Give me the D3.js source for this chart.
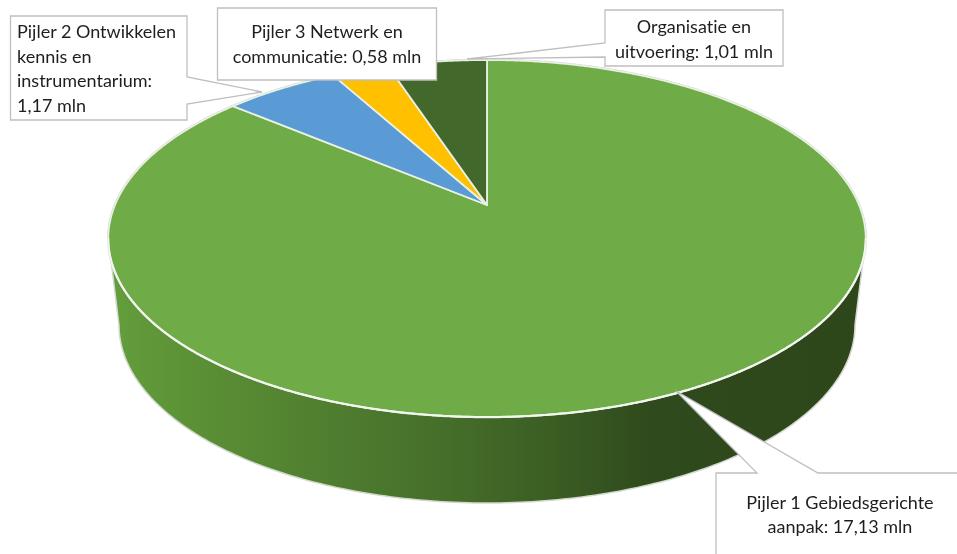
<!DOCTYPE html>
<html><head><meta charset="utf-8">
<script src="https://cdn.jsdelivr.net/npm/d3@7/dist/d3.min.js"></script>
<style>html,body{margin:0;padding:0;background:#fff}svg{display:block;filter:blur(0.35px)}text{font-variant-ligatures:none}</style>
</head><body><div id="c"></div>
<script>
const categories = ["Pijler 1 Gebiedsgerichte aanpak","Pijler 2 Ontwikkelen kennis en instrumentarium","Pijler 3 Netwerk en communicatie","Organisatie en uitvoering"];
const values = [17.13,1.17,0.58,1.01];
const colors = ["#6fab46","#5b9bd5","#ffc000","#43682b"];
const labelLines = [
  ["Pijler 1 Gebiedsgerichte","aanpak: 17,13 mln"],
  ["Pijler 2 Ontwikkelen","kennis en","instrumentarium:","1,17 mln"],
  ["Pijler 3 Netwerk en","communicatie: 0,58 mln"],
  ["Organisatie en","uitvoering: 1,01 mln"]
];
const W=957,H=554;
const svg=d3.select("#c").append("svg").attr("width",W).attr("height",H).attr("viewBox",[0,0,W,H]);
const apex={x:487,y:205}, a=372, b=172.2, k=0.1877;
const proj=t=>{const u=Math.sin(t),v=-Math.cos(t),w=1-k*v;return [apex.x+a*u/w,apex.y+b*v/w];};
const line=d3.line();
const TAU=Math.PI*2;
const arcPts=(s,e)=>{const n=Math.max(2,Math.ceil((e-s)/0.005));return d3.range(n+1).map(i=>proj(s+(e-s)*i/n));};

// wall: lower half of the top rim + lower half of a shifted, slightly narrower ellipse
const low={cx:487,cy:325,rx:368,ry:178};
const lowPts=d3.range(0,181).map(d=>{const r=d*Math.PI/180;return [low.cx+low.rx*Math.cos(r),low.cy+low.ry*Math.sin(r)];});
const topFull=arcPts(0,TAU);
const topLow=topFull.filter(p=>p[1]>=238).sort((p,q)=>q[0]-p[0]);
const grad=svg.append("defs").append("linearGradient").attr("id","wall").attr("gradientUnits","userSpaceOnUse")
  .attr("x1",110).attr("x2",860).attr("y1",0).attr("y2",0);
[[0,"#649e3c"],[0.1,"#5c9236"],[0.3,"#4f7d2f"],[0.45,"#456e2a"],[0.6,"#3a5c23"],[0.72,"#2f4a1c"],[1,"#2d461a"]]
  .forEach(s=>grad.append("stop").attr("offset",s[0]).attr("stop-color",s[1]));
svg.append("path").attr("d",line(topLow.concat(lowPts.slice().reverse()))+"Z")
  .attr("fill","url(#wall)").attr("stroke","#d3d8cf").attr("stroke-width",1.5).attr("stroke-linejoin","round");

// top disc
const arcs=d3.pie().sort(null)(values);
svg.append("path").attr("d",line(topFull)+"Z").attr("fill",colors[0]).attr("stroke","#cfd2cc").attr("stroke-width",2.5);
svg.selectAll("path.slice").data(arcs).join("path").attr("class","slice")
  .attr("d",d=>line([[apex.x,apex.y],...arcPts(d.startAngle,d.endAngle)])+"Z")
  .attr("fill",(d,i)=>colors[i]).attr("stroke","#e9f0e4").attr("stroke-width",1.8).attr("stroke-linejoin","round");
// bright front rim
svg.append("path").attr("d",line(topLow)).attr("fill","none").attr("stroke","#f2f6ee").attr("stroke-width",2);

// callouts
const boxes=[
 {d:"M716,560V473H757L676,391L818,473H965V560Z",cx:840,anchor:"middle",base:[509,533]},
 {d:"M10.5,16H187V77L262,92L187,104V120H10.5Z",cx:17,anchor:"start",base:[38,63,87,112]},
 {d:"M217.5,8H436.5V80H217.5Z",cx:327,anchor:"middle",base:[38,63]},
 {d:"M605,10H783V66H605V57L467,59L605,43Z",cx:694,anchor:"middle",base:[33,58]}
];
const g=svg.selectAll("g.lab").data(labelLines).join("g").attr("class","lab");
g.append("path").attr("d",(d,i)=>boxes[i].d).attr("fill","#fff").attr("stroke","#bfbfbf").attr("stroke-width",1.3);
g.each(function(d,i){
  d3.select(this).selectAll("text").data(d).join("text")
    .attr("x",boxes[i].cx).attr("y",(t,j)=>boxes[i].base[j]).attr("text-anchor",boxes[i].anchor)
    .attr("font-family","Lato, sans-serif").attr("font-size",18).attr("fill","#1e1e1e").text(t=>t);
});
</script></body></html>
